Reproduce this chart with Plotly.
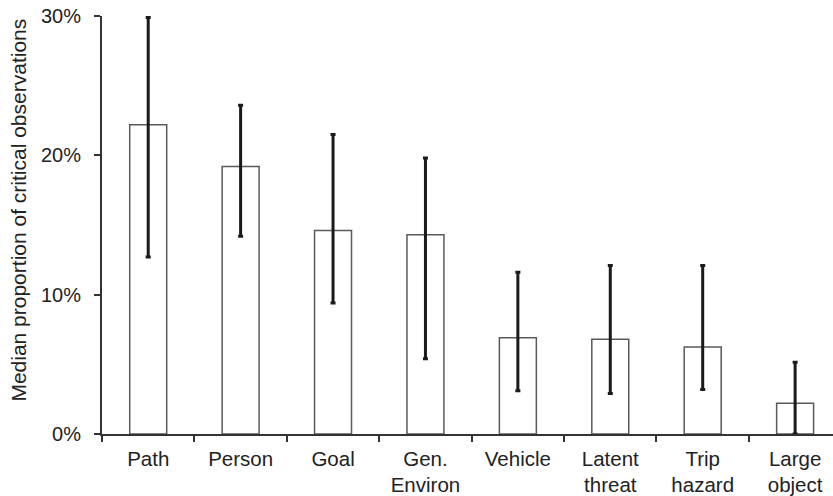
import plotly.graph_objects as go

# Observation categories (multi-line labels use <br>)
categories = ["Path", "Person", "Goal", "Gen.<br>Environ", "Vehicle",
              "Latent<br>threat", "Trip<br>hazard", "Large<br>object"]

# Median proportion of critical observations (%)
median_pct = [22.2, 19.2, 14.6, 14.3, 6.9, 6.8, 6.25, 2.2]

# Interval bounds for each category (%)
upper_pct = [29.9, 23.6, 21.5, 19.8, 11.6, 12.1, 12.1, 5.15]
lower_pct = [12.7, 14.2, 9.4, 5.4, 3.1, 2.9, 3.2, 0.0]

y_ticks = [0, 10, 20, 30]
y_tick_labels = ["0%", "10%", "20%", "30%"]

err_plus = [u - m for u, m in zip(upper_pct, median_pct)]
err_minus = [m - l for m, l in zip(median_pct, lower_pct)]

FONT = "Liberation Sans, Arial, Helvetica, sans-serif"
TEXT = "#222222"
AXIS = "#333333"

fig = go.Figure(
    go.Bar(
        x=categories,
        y=median_pct,
        width=0.4,
        marker=dict(color="white", line=dict(color="#5a5a5a", width=1.5)),
        error_y=dict(
            type="data",
            symmetric=False,
            array=err_plus,
            arrayminus=err_minus,
            color="#1a1a1a",
            thickness=3,
            width=2.5,
        ),
    )
)

fig.update_layout(
    width=833,
    height=496,
    margin=dict(l=102, r=0, t=16, b=62),
    paper_bgcolor="white",
    plot_bgcolor="white",
    showlegend=False,
    font=dict(family=FONT, size=20, color=TEXT),
    annotations=[
        dict(
            text="Median proportion of critical observations",
            textangle=-90,
            xref="paper", yref="paper",
            x=-0.114, y=0.536,
            xanchor="center", yanchor="middle",
            showarrow=False,
            font=dict(family=FONT, size=21, color=TEXT),
        )
    ],
)

fig.update_xaxes(
    type="category",
    range=[-0.5, 7.41],
    tickson="boundaries",
    ticks="outside",
    ticklen=6,
    tickwidth=1.6,
    tickcolor=AXIS,
    showline=True,
    linecolor=AXIS,
    linewidth=2,
    showgrid=False,
    zeroline=False,
    ticklabelstandoff=5,
    tickfont=dict(family=FONT, size=20.5, color=TEXT),
)

fig.update_yaxes(
    range=[0, 30],
    tickvals=y_ticks,
    ticktext=y_tick_labels,
    ticks="outside",
    ticklen=6,
    tickwidth=1.6,
    tickcolor=AXIS,
    showline=True,
    linecolor=AXIS,
    linewidth=2,
    showgrid=False,
    zeroline=False,
    ticklabelstandoff=9,
    tickfont=dict(family=FONT, size=20, color=TEXT),
)

fig.write_html("out.html")
